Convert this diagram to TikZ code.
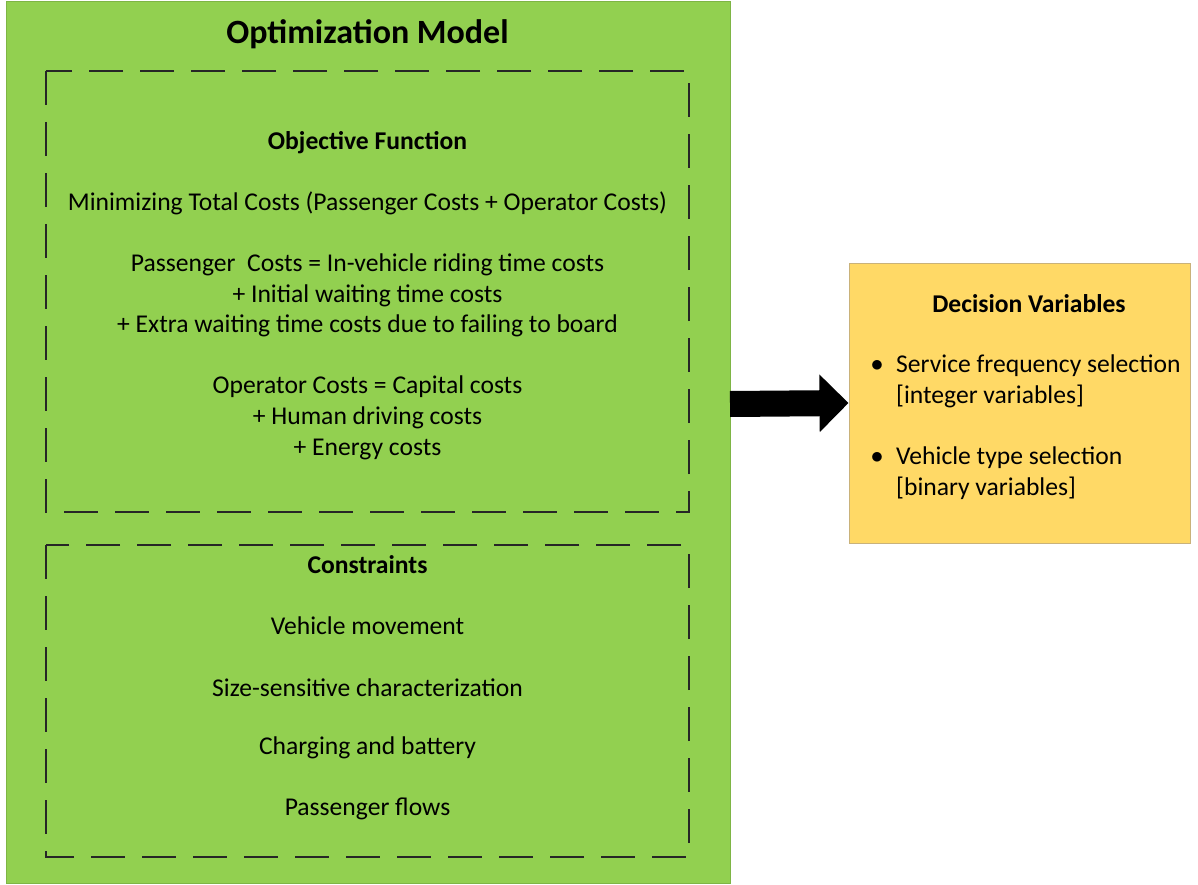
\documentclass[tikz,border=0pt]{standalone}
\usepackage{fontspec}
\setmainfont{Carlito}
\usetikzlibrary{arrows.meta}
\definecolor{modelgreen}{HTML}{92D050}
\definecolor{modelgreenedge}{HTML}{7EB545}
\definecolor{dvyellow}{HTML}{FFD966}
\definecolor{dvedge}{HTML}{C9B27A}
\tikzset{
  panel/.style={draw=modelgreenedge, fill=modelgreen, line width=1pt},
  dvbox/.style={draw=dvedge, fill=dvyellow, line width=1pt},
  dashbox/.style={draw=black!85, line width=2.5pt, dash pattern=on 34pt off 17pt},
  txt/.style={font=\fontsize{25.6}{30}\selectfont, inner sep=0pt, anchor=center, yshift=-2pt},
  hdr/.style={font=\fontsize{25.6}{30}\selectfont\bfseries, inner sep=0pt, anchor=center, yshift=-2pt},
  bigtitle/.style={font=\fontsize{34}{40}\selectfont\bfseries, inner sep=0pt, anchor=center, yshift=-1pt},
  item/.style={font=\fontsize{25.6}{30}\selectfont, inner sep=0pt, anchor=west, yshift=-2pt},
  blockarrow/.style={line width=26pt, -{Triangle[width=56pt,length=29pt]}}
}
\begin{document}
\begin{tikzpicture}[x=1pt,y=-1pt]
\useasboundingbox (0,0) rectangle (1198,885);
% main green panel
\draw[panel] (6,2) rectangle (730,883);
\path (730,404) coordinate (greenE);
% dashed boxes
\draw[dashbox] (46,71) rectangle (689,512);
\draw[dashbox] (46,545) rectangle (689,857);
% decision box
\node[dvbox, minimum width=341pt, minimum height=280pt, inner sep=0pt] (dv) at (1019.5,403) {};
% texts
\node[bigtitle] (title) at (367.5,33) {Optimization Model};
\node[hdr] (obj) at (367.5,141) {Objective Function};
\node[txt] (min) at (367.5,201) {Minimizing Total Costs (Passenger Costs + Operator Costs)};
\node[txt] (pc1) at (367.5,263) {Passenger\ \ Costs = In-vehicle riding time costs};
\node[txt] (pc2) at (367.5,294) {+ Initial waiting time costs};
\node[txt] (pc3) at (367.5,324) {+ Extra waiting time costs due to failing to board};
\node[txt] (oc1) at (367.5,385) {Operator Costs = Capital costs};
\node[txt] (oc2) at (367.5,416) {+ Human driving costs};
\node[txt] (oc3) at (367.5,447) {+ Energy costs};
\node[hdr] (con) at (367.5,563) {Constraints};
\node[txt] (c1) at (367.5,624) {Vehicle movement};
\node[txt] (c2) at (367.5,686) {Size-sensitive characterization};
\node[txt] (c3) at (367.5,746) {Charging and battery};
\node[txt] (c4) at (367.5,807) {Passenger flows};
% decision variables
\node[hdr] (dvt) at (1029,302) {Decision Variables};
\node[txt] (b1) at (877,364) {$\bullet$};
\node[item] (d1) at (896,364) {Service frequency selection};
\node[item] (d1b) at (896,394) {[integer variables]};
\node[txt] (b2) at (877,456) {$\bullet$};
\node[item] (d2) at (896,456) {Vehicle type selection};
\node[item] (d2b) at (896,486) {[binary variables]};
% arrow
\draw[blockarrow] (greenE) -- (dv.west);
\end{tikzpicture}
\end{document}
